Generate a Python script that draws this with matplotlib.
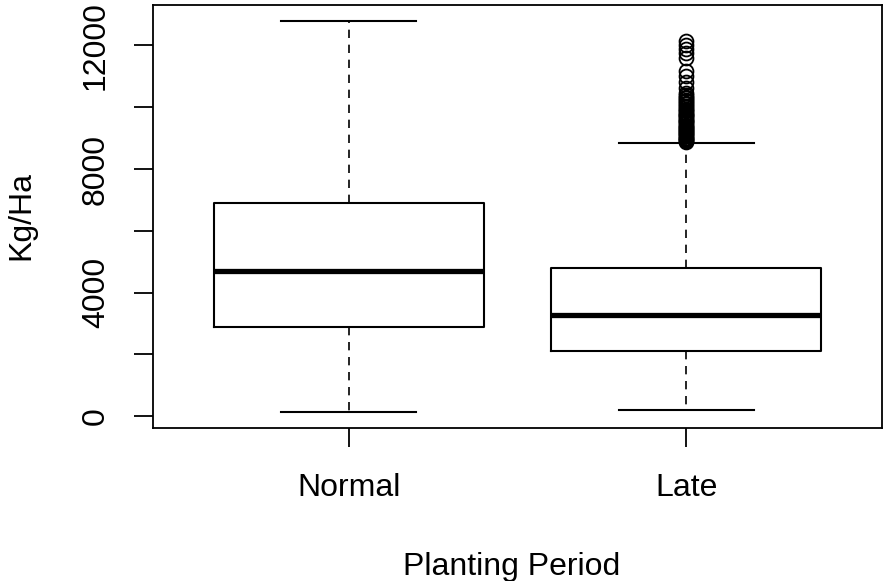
import matplotlib
matplotlib.use("Agg")
import matplotlib.pyplot as plt

plt.rcParams['font.family'] = ['Liberation Sans', 'DejaVu Sans']

categories = ["Normal", "Late"]
whisker_low = [130, 200]
q1 = [2900, 2120]
median = [4700, 3290]
q3 = [6910, 4790]
whisker_high = [12800, 8840]
outliers_normal = []
outliers_late = [8870, 8900, 8930, 8960, 8990, 9020, 9060, 9090, 9120, 9160,
                 9190, 9230, 9260, 9300, 9330, 9370, 9410, 9440, 9480, 9520,
                 9560, 9590, 9630, 9670, 9710, 9750, 9790, 9830, 9870, 9910,
                 9960, 10000, 10050, 10090, 10140, 10190, 10240, 10290, 10340,
                 10400, 10450, 10620, 10810, 11000, 11180, 11580, 11750, 11900,
                 12030, 12130]
yticks = [0, 2000, 4000, 6000, 8000, 10000, 12000]
ytick_labels = ["0", "", "4000", "", "8000", "", "12000"]

stats = []
fl = [outliers_normal, outliers_late]
for i, c in enumerate(categories):
    stats.append(dict(label=c, whislo=whisker_low[i], q1=q1[i], med=median[i],
                      q3=q3[i], whishi=whisker_high[i], fliers=fl[i]))

W, H = 883, 581
fig = plt.figure(figsize=(W/100, H/100), dpi=100)
ax = fig.add_axes([153/W, 1-428/H, (882-153)/W, (428-5)/H])

ax.bxp(stats, positions=[1, 2], widths=0.8, showfliers=True,
       boxprops=dict(color='black', linewidth=1.5),
       medianprops=dict(color='black', linewidth=3.8, solid_capstyle='butt'),
       whiskerprops=dict(color='black', linewidth=1.2, linestyle=(0, (5, 4))),
       capprops=dict(color='black', linewidth=1.5),
       capwidths=0.4,
       flierprops=dict(marker='o', markerfacecolor='none', markeredgecolor='black',
                       markersize=10, markeredgewidth=1.3, linestyle='none'))

ax.set_xlim(0.42, 2.58)
ax.set_ylim(-380, 13310)
ax.set_yticks(yticks)
ax.set_yticklabels(ytick_labels, rotation=90, va='center')
ax.set_xticks([1, 2])
ax.set_xticklabels(categories)
ax.tick_params(axis='both', length=13.7, width=1.3, labelsize=23, color='black')
ax.tick_params(axis='x', pad=19)
ax.tick_params(axis='y', pad=16.5)
for s in ax.spines.values():
    s.set_linewidth(1.3)

fig.text(512/W, 1-567/H, "Planting Period", fontsize=23, ha='center', va='center')
fig.text(21/W, 1-216/H, "Kg/Ha", fontsize=23, ha='center', va='center', rotation=90)

fig.savefig("out.png", dpi=100)
